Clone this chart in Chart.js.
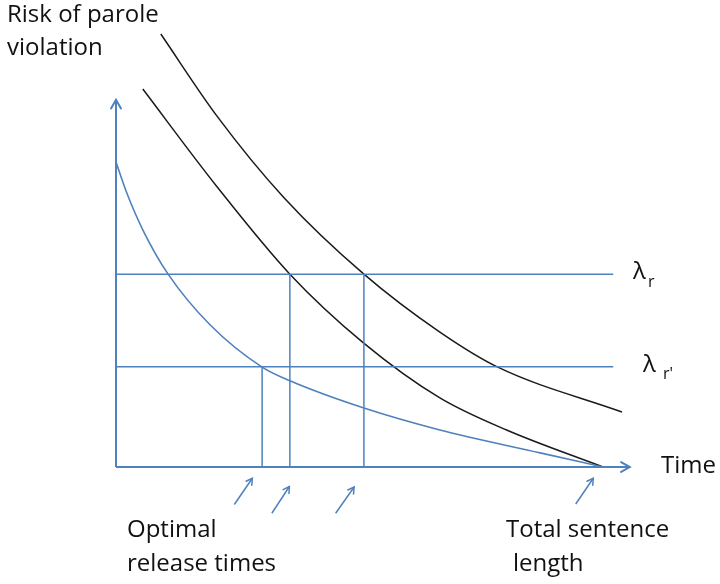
<!DOCTYPE html>
<html>
<head>
<meta charset="utf-8">
<script src="https://cdn.jsdelivr.net/npm/chart.js@4"></script>
<style>
  html, body { margin: 0; padding: 0; background: #fff; }
  canvas { display: block; }
</style>
</head>
<body>
<canvas id="c" width="720" height="584"></canvas>
<script>
"use strict";

/* ── data (time units, risk units) ────────────────────────────── */
const BLUE_T = [0, 0.22, 0.56, 1.07, 1.93, 3.00, 3.57, 5.09, 6.65, 8.71, 10];
const BLUE_R = [6.26, 5.63, 4.85, 3.96, 2.92, 2.05, 1.77, 1.21, 0.76, 0.29, 0];

const LOW_T = [0.55, 2.07, 3.57, 5.08, 6.65, 8.02, 10];
const LOW_R = [7.76, 5.76, 3.96, 2.55, 1.42, 0.76, 0];

const UP_T = [0.92, 2.07, 3.44, 5.09, 6.65, 7.84, 10.39];
const UP_R = [8.89, 7.21, 5.54, 3.96, 2.77, 2.05, 1.13];

const LAMBDAS = [3.96, 2.06];          // λr, λr'
const LAMBDA_END = 10.21;              // where the threshold lines stop
const RELEASE_T = [3.00, 3.57, 5.09];  // optimal release times
const RELEASE_TOP = [2.06, 3.96, 3.96];
const AXIS_X_END = 10.55;
const AXIS_Y_END = 7.54;

// little pointer arrows under the axis: [tailT, tailR, headT, headR]
const POINTERS = [
  [2.43, -0.77, 2.80, -0.23],
  [3.20, -0.95, 3.56, -0.40],
  [4.51, -0.95, 4.89, -0.41],
  [9.44, -0.76, 9.80, -0.23],
];

const BLUE = "#4f81bd";
const BLACK = "#1a1a1a";
const FONT = '"Open Sans", Lato, sans-serif';

const pts = (xs, ys) => xs.map((x, i) => ({ x, y: ys[i] }));

const datasets = [];
function seg(data, color, width, extra) {
  datasets.push(Object.assign({
    data, borderColor: color, borderWidth: width, pointRadius: 0,
    showLine: true, fill: false, tension: 0,
  }, extra || {}));
}

// threshold lines
LAMBDAS.forEach(l => seg([{ x: 0, y: l }, { x: LAMBDA_END, y: l }], BLUE, 1.5));
// release-time verticals
RELEASE_T.forEach((t, i) => seg([{ x: t, y: 0 }, { x: t, y: RELEASE_TOP[i] }], BLUE, 1.5));
// axes
seg([{ x: 0, y: 0 }, { x: 0, y: AXIS_Y_END }], BLUE, 2, { arrow: 10 });
seg([{ x: 0, y: 0 }, { x: AXIS_X_END, y: 0 }], BLUE, 2, { arrow: 10 });
// pointers
POINTERS.forEach(p => seg([{ x: p[0], y: p[1] }, { x: p[2], y: p[3] }], BLUE, 1.5, { arrow: 7 }));
// curves
seg(pts(BLUE_T, BLUE_R), BLUE, 1.6, { cubicInterpolationMode: "monotone" });
seg(pts(LOW_T, LOW_R), BLACK, 1.5, { cubicInterpolationMode: "monotone" });
seg(pts(UP_T, UP_R), BLACK, 1.5, { cubicInterpolationMode: "monotone" });

/* ── open arrowheads at the end of flagged datasets ───────────── */
const arrowHeads = {
  id: "arrowHeads",
  afterDatasetsDraw(chart) {
    const ctx = chart.ctx;
    chart.data.datasets.forEach((ds, i) => {
      if (!ds.arrow) return;
      const el = chart.getDatasetMeta(i).data;
      const a = el[el.length - 2], b = el[el.length - 1];
      const ang = Math.atan2(b.y - a.y, b.x - a.x);
      const len = ds.arrow, spread = 0.52;
      ctx.save();
      ctx.strokeStyle = ds.borderColor;
      ctx.lineWidth = ds.borderWidth;
      ctx.lineCap = "round";
      ctx.beginPath();
      ctx.moveTo(b.x - len * Math.cos(ang - spread), b.y - len * Math.sin(ang - spread));
      ctx.lineTo(b.x, b.y);
      ctx.lineTo(b.x - len * Math.cos(ang + spread), b.y - len * Math.sin(ang + spread));
      ctx.stroke();
      ctx.restore();
    });
  },
};

/* ── text labels (pixel layout) ───────────────────────────────── */
const LABELS = [
  { text: "Risk of parole", x: 7, y: 22, size: 24 },
  { text: "violation", x: 7, y: 55, size: 24 },
  { text: "λ", x: 633, y: 279, size: 24 },
  { text: "r", x: 648, y: 287, size: 16 },
  { text: "λ", x: 643, y: 372, size: 24 },
  { text: "r'", x: 663, y: 379, size: 16 },
  { text: "Time", x: 661, y: 473, size: 24 },
  { text: "Optimal", x: 127, y: 537, size: 24 },
  { text: "release times", x: 127, y: 571, size: 24 },
  { text: "Total sentence", x: 506, y: 537, size: 24 },
  { text: "length", x: 513, y: 571, size: 24 },
];

const textLabels = {
  id: "textLabels",
  afterDraw(chart) {
    const ctx = chart.ctx;
    ctx.save();
    ctx.fillStyle = "#111";
    ctx.textBaseline = "alphabetic";
    ctx.textAlign = "left";
    LABELS.forEach(l => {
      ctx.font = `${l.size}px ${FONT}`;
      ctx.fillText(l.text, l.x, l.y);
    });
    ctx.restore();
  },
};

new Chart(document.getElementById("c"), {
  type: "scatter",
  data: { datasets },
  options: {
    responsive: false,
    animation: false,
    layout: { padding: 0 },
    scales: {
      x: { type: "linear", display: false, min: -2.382, max: 12.402 },
      y: { type: "linear", display: false, min: -2.402, max: 9.589 },
    },
    plugins: { legend: { display: false }, tooltip: { enabled: false } },
  },
  plugins: [arrowHeads, textLabels],
});
</script>
</body>
</html>
